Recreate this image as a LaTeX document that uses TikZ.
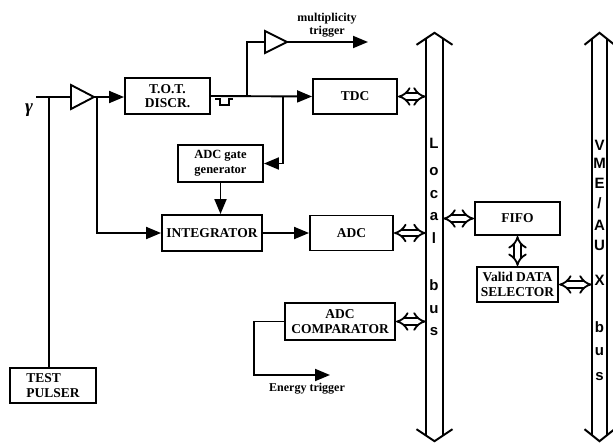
\documentclass[tikz,border=0pt]{standalone}
\usepackage{fontspec}
\setmainfont{Liberation Serif}
\newfontfamily\busfont{Liberation Sans}
\usetikzlibrary{arrows.meta}
\newcommand{\busslash}{/}
\tikzset{
  blockbox/.style={draw, line width=1.9pt, align=center, inner sep=0pt, font=\bfseries\fontsize{13.5}{14.5}\selectfont},
  sig/.style={line width=1.9pt, -{Triangle[length=15pt,width=12pt]}},
  wire/.style={line width=1.9pt},
  dbl/.style={line width=1.8pt, double distance=4.5pt, {Implies[length=5pt,width=18pt]}-{Implies[length=5pt,width=18pt]}},
  busline/.style={line width=2pt},
  busletter/.style={font=\busfont\bfseries\fontsize{15}{15}\selectfont, inner sep=0pt},
  smalltext/.style={font=\bfseries\fontsize{12}{13}\selectfont, align=center, inner sep=0pt}
}
\begin{document}
\begin{tikzpicture}[x=1pt, y=-1pt]
\useasboundingbox (0,0) rectangle (613,442);
\node[blockbox, minimum width=85pt, minimum height=36pt] (tot) at (167.5,96) {T.O.T.\\DISCR.};
\node[blockbox, minimum width=84pt, minimum height=35pt] (tdc) at (355,96.5) {TDC};
\node[blockbox, minimum width=85pt, minimum height=37pt, font=\bfseries\fontsize{12.5}{15}\selectfont] (gate) at (220.5,163.5) {ADC gate\\generator};
\node[blockbox, minimum width=100pt, minimum height=36pt] (integ) at (212,233) {INTEGRATOR};
\node[blockbox, minimum width=83pt, minimum height=35pt] (adc) at (351.5,233) {ADC};
\node[blockbox, minimum width=110pt, minimum height=37pt] (comp) at (340,321.5) {ADC\\COMPARATOR};
\node[blockbox, minimum width=85pt, minimum height=33pt] (fifo) at (517.5,218.5) {FIFO};
\node[blockbox, minimum width=81pt, minimum height=35pt] (vds) at (517.5,284.5) {Valid DATA\\SELECTOR};
\node[blockbox, minimum width=86pt, minimum height=35pt, align=left] (pulser) at (53,385.5) {TEST\\PULSER};
\node[minimum width=17pt, minimum height=396pt, inner sep=0pt] (lbus) at (434.5,237) {};
\node[minimum width=15pt, minimum height=396pt, inner sep=0pt] (vbus) at (599.5,237) {};
\node[font=\bfseries\itshape\fontsize{19}{19}\selectfont, inner sep=0pt] (vsym) at (29,110) {γ};
\node[smalltext] (multlabel) at (327,25) {multiplicity\\trigger};
\node[smalltext] (elabel) at (307,389) {Energy trigger};
\coordinate (vin) at (36,97);
\coordinate (tap) at (49,97);
\coordinate (ampin) at (71,97);
\coordinate (ampout) at (94,97);
\coordinate (split) at (97,97);
\coordinate (mampin) at (265,42);
\coordinate (mampout) at (287,42);
\coordinate (mult) at (368,42);
\coordinate (etrig) at (330,375);
\draw[wire] (71,85) -- (ampout) -- (71,109) -- cycle;
\draw[wire] (265,31) -- (mampout) -- (265,53) -- cycle;
\draw[wire] (vin) -- (ampin);
\draw[wire] (tap) -- (tap |- pulser.north);
\draw[sig] (ampout) -- (ampout -| tot.west);
\draw[sig] (split) |- (integ.west);
\draw[sig] (tot.east) -- (tdc.west);
\draw[wire] (247,96) |- (mampin);
\draw[sig] (mampout) -- (mult);
\draw[sig] (283,96) |- (gate.east);
\draw[sig] (gate.south) -- (gate.south |- integ.north);
\draw[sig] (integ.east) -- (adc.west);
\draw[sig] (comp.west) -- ++(-30,0) |- (etrig);
\draw[line width=1.5pt] (215,99) -- (220,99) -- (220,105) -- (229,105) -- (229,99) -- (233,99);
\draw[dbl] (tdc.east) -- (tdc.east -| lbus.west);
\draw[dbl] (adc.east) -- (adc.east -| lbus.west);
\draw[dbl] (comp.east) -- (comp.east -| lbus.west);
\draw[dbl] (fifo.west -| lbus.east) -- (fifo.west);
\draw[dbl] (fifo.south) -- (fifo.south |- vds.north);
\draw[dbl] (vds.east) -- (vds.east -| vbus.west);
\draw[busline] (lbus.north west) -- (lbus.south west) (lbus.north east) -- (lbus.south east);
\draw[busline] ([shift={(-18,6)}]lbus.north) -- ([shift={(0,-6)}]lbus.north) -- ([shift={(18,6)}]lbus.north);
\draw[busline] ([shift={(-18,-6)}]lbus.south) -- ([shift={(0,6)}]lbus.south) -- ([shift={(18,-6)}]lbus.south);
\draw[busline] (vbus.north west) -- (vbus.south west) (vbus.north east) -- (vbus.south east);
\draw[busline] ([shift={(-15,6)}]vbus.north) -- ([shift={(0,-6)}]vbus.north) -- ([shift={(15,6)}]vbus.north);
\draw[busline] ([shift={(-15,-6)}]vbus.south) -- ([shift={(0,6)}]vbus.south) -- ([shift={(15,-6)}]vbus.south);
\foreach \ch/\yy [count=\i] in {L/143, o/172, c/195, a/217, l/238, b/285, u/310, s/332}
  \node[busletter] (lb\i) at (434,\yy) {\ch};
\foreach \ch/\yy [count=\i] in {V/145, M/163, E/183, \busslash/203, A/225, U/245, X/280, b/327, u/352, s/377}
  \node[busletter] (vb\i) at (599.5,\yy) {\ch};
\end{tikzpicture}
\end{document}
